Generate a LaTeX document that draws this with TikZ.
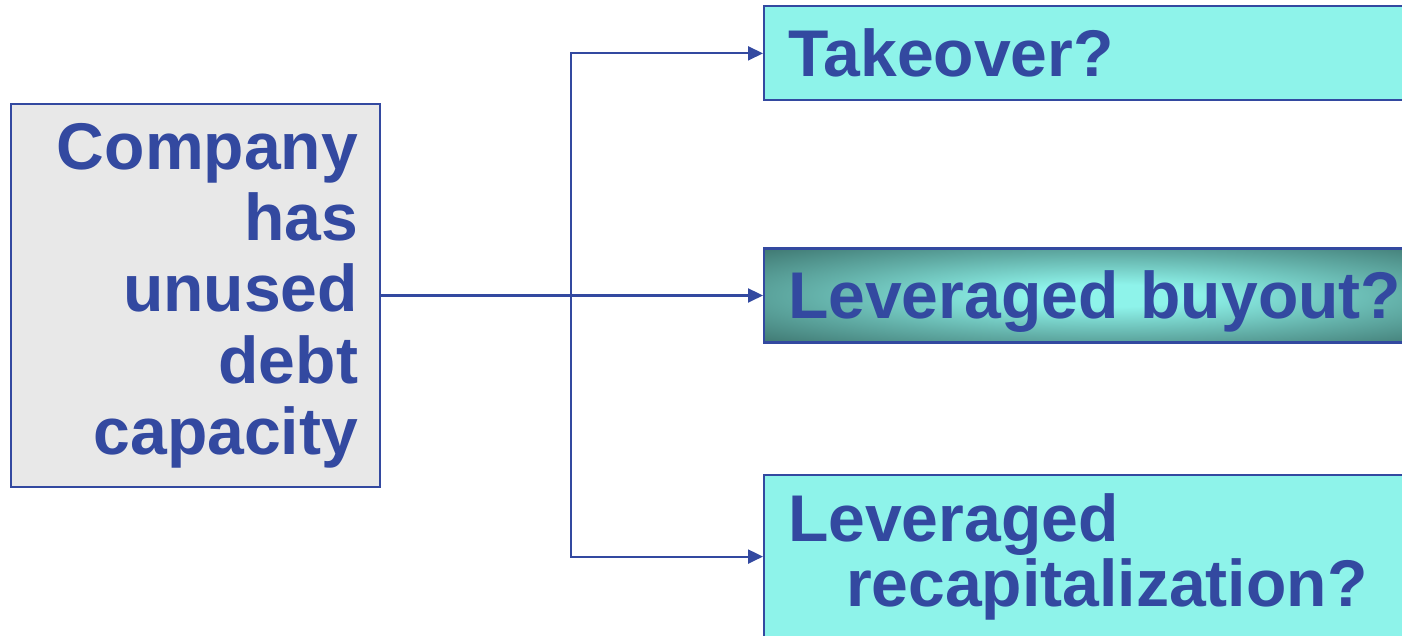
\documentclass[tikz,border=0pt]{standalone}
\usepackage{fontspec}
\setmainfont{Liberation Sans}
\usetikzlibrary{arrows.meta,positioning}
\definecolor{deepblue}{RGB}{51,73,160}
\definecolor{boxgray}{RGB}{232,232,232}
\definecolor{aqua}{RGB}{142,243,234}
\definecolor{darkteal}{RGB}{62,118,112}
\pgfdeclareradialshading{glow}{\pgfpoint{0bp}{0bp}}{color(0bp)=(aqua); color(6bp)=(aqua); color(22bp)=(darkteal!55!aqua); color(36bp)=(darkteal); color(50bp)=(darkteal)}

\begin{document}
\begin{tikzpicture}[
    source/.style={draw=deepblue, line width=0.6pt, fill=boxgray, text=deepblue,
        minimum height=3.83cm, text width=3.25cm, inner xsep=0.22cm, align=right,
        font=\fontsize{18.8}{20.3}\selectfont\bfseries},
    choice/.style={draw=deepblue, line width=0.6pt, fill=aqua, text=deepblue,
        text width=6.4cm, inner xsep=0.24cm, align=left,
        font=\fontsize{18.8}{18.5}\selectfont\bfseries},
    single/.style={minimum height=0.94cm, inner ysep=0.08cm, text height=0.6cm, text depth=0.13cm},
    arrow/.style={-{Triangle[length=1.5mm, width=1.4mm]}, line width=0.6pt, deepblue},
    node distance=1.46cm
]
\clip (0,0) rectangle (14.02,6.36);
\node[source] (company) at (1.955,3.405) {Company\\has\\unused\\debt\\capacity};
\node[choice, single, shading=glow, anchor=west] (buyout) at (7.63,3.405) {Leveraged buyout?};
\node[choice, single, above=of buyout] (takeover) {Takeover?};
\node[choice, minimum height=1.64cm, below=1.3cm of buyout] (recap) {Leveraged\\\hspace*{0.58cm}recapitalization?};

\coordinate (split) at (5.71,3.405);
\draw[arrow] (company) -- (buyout);
\foreach \t in {takeover, recap}
    \draw[arrow] (split) |- (\t);
\end{tikzpicture}
\end{document}
